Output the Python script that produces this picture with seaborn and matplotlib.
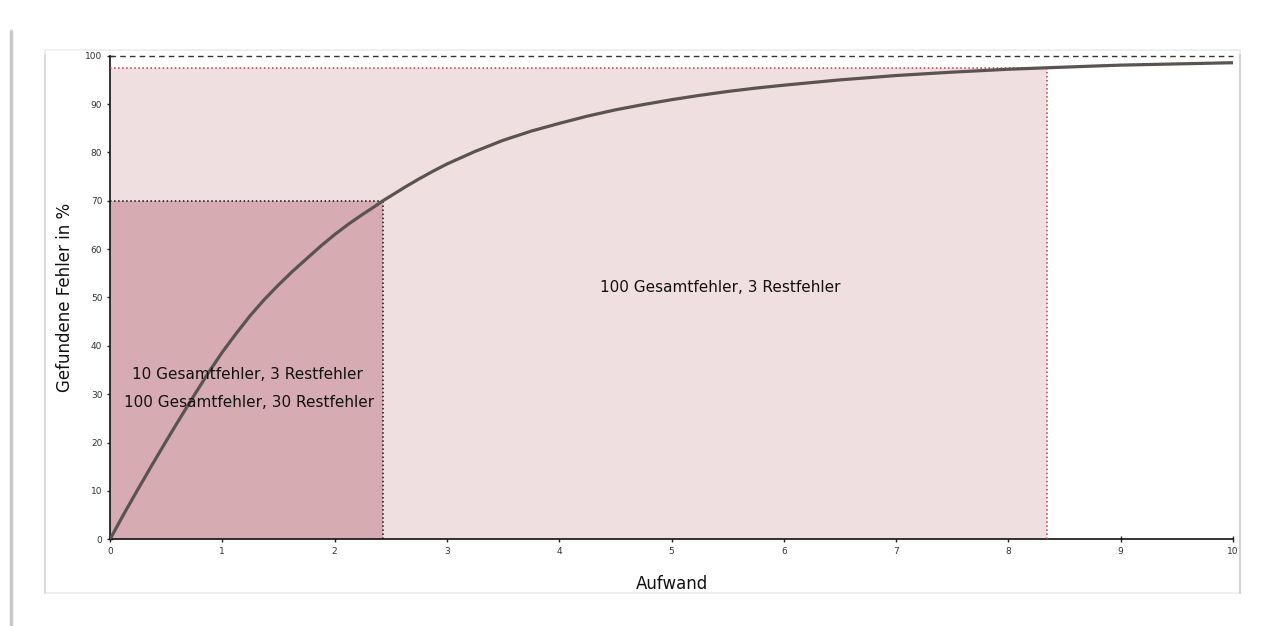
import matplotlib
matplotlib.use("Agg")
import matplotlib.pyplot as plt
import seaborn as sns
import pandas as pd
from matplotlib.patches import Rectangle
from matplotlib.lines import Line2D

# Werte
aufwand = [0, 0.125, 0.25, 0.375, 0.5, 0.625, 0.75, 0.875, 1.0, 1.125, 1.25, 1.375,
           1.5, 1.625, 1.75, 1.875, 2.0, 2.125, 2.25, 2.375, 2.43, 2.5, 2.625, 2.75,
           2.875, 3.0, 3.25, 3.5, 3.75, 4.0, 4.25, 4.5, 4.75, 5.0, 5.25, 5.5, 5.75,
           6.0, 6.5, 7.0, 7.5, 8.0, 8.34, 8.75, 9.0, 9.5, 10.0]
gefunden = [0, 5.3, 10.4, 15.4, 20.3, 25.1, 29.8, 34.4, 38.7, 42.6, 46.3, 49.6,
            52.6, 55.4, 58.0, 60.6, 63.0, 65.2, 67.2, 69.1, 70.0, 71.0, 72.8, 74.5,
            76.1, 77.6, 80.2, 82.5, 84.4, 86.0, 87.5, 88.8, 89.9, 90.9, 91.8, 92.6, 93.3,
            93.9, 95.0, 95.9, 96.6, 97.2, 97.5, 97.85, 98.05, 98.3, 98.55]

grenze_klein = (2.43, 70)    # 10 Gesamtfehler / 100 Gesamtfehler, 30 Rest
grenze_gross = (8.34, 97.5)  # 100 Gesamtfehler, 3 Rest

x_ticks = list(range(0, 11))
y_ticks = list(range(0, 101, 10))

df = pd.DataFrame({"Aufwand": aufwand, "Gefunden": gefunden})

sns.set_theme(style="white")
plt.rcParams['font.family'] = ['DejaVu Sans']

fig = plt.figure(figsize=(12.66, 6.26), dpi=100)
fig.patch.set_facecolor("white")

# Rahmen um die Grafik
W, H = 1266, 626
fig.add_artist(Line2D([11 / W, 11 / W], [0, 1 - 31 / H], color="#c9c9c9", lw=2.5))
fig.add_artist(Rectangle((45 / W, 1 - 593 / H), (1240 - 45) / W, (593 - 50) / H,
                         transform=fig.transFigure, fill=False,
                         edgecolor="#ececec", lw=1.2))
fig.add_artist(Line2D([1240 / W, 1240 / W], [1 - 593 / H, 1 - 55 / H], color="#d2d2d2", lw=1.5))
fig.add_artist(Line2D([45 / W, 45 / W], [1 - 593 / H, 1 - 55 / H], color="#dcdcdc", lw=1.5))

ax = fig.add_axes([110 / W, 1 - 539.3 / H, 1123 / W, (539.3 - 55.7) / H])
ax.set_facecolor("none")

# Flächen
ax.add_patch(Rectangle((0, 0), grenze_gross[0], grenze_gross[1],
                       facecolor="#efdfe1", edgecolor="none", zorder=1))
ax.add_patch(Rectangle((0, 0), grenze_klein[0], grenze_klein[1],
                       facecolor="#d6abb1", edgecolor="none", zorder=2))

# Hilfslinien
ax.plot([0, grenze_gross[0]], [grenze_gross[1], grenze_gross[1]], ls=":", color="#c23a4a", lw=1.1, zorder=3)
ax.plot([grenze_gross[0], grenze_gross[0]], [0, grenze_gross[1]], ls=":", color="#c23a4a", lw=1.1, zorder=3)
ax.plot([0, grenze_klein[0]], [grenze_klein[1], grenze_klein[1]], ls=":", color="#111111", lw=1.1, zorder=3)
ax.plot([grenze_klein[0], grenze_klein[0]], [0, grenze_klein[1]], ls=":", color="#111111", lw=1.1, zorder=3)
ax.plot([0, 10], [100, 100], ls=(0, (4, 3)), color="#333333", lw=1.0, zorder=3, clip_on=False)

sns.lineplot(data=df, x="Aufwand", y="Gefunden", ax=ax, color="#5a5451", lw=2.3, zorder=4)

ax.text(1.22, 34, "10 Gesamtfehler, 3 Restfehler", ha="center", va="center", fontsize=11, color="#111111", zorder=5)
ax.text(1.24, 28.2, "100 Gesamtfehler, 30 Restfehler", ha="center", va="center", fontsize=11, color="#111111", zorder=5)
ax.text(5.43, 52, "100 Gesamtfehler, 3 Restfehler", ha="center", va="center", fontsize=11, color="#111111", zorder=5)

ax.set_xlim(0, 10)
ax.set_ylim(0, 100)
ax.set_xticks(x_ticks)
ax.set_yticks(y_ticks)
ax.tick_params(direction="inout", length=5, width=1, labelsize=6.5, labelcolor="#333333",
               left=True, bottom=True, pad=3)
for s in ["top", "right"]:
    ax.spines[s].set_visible(False)
for s in ["left", "bottom"]:
    ax.spines[s].set_color("#111111")
    ax.spines[s].set_linewidth(1.2)

ax.set_xlabel("Aufwand", fontsize=12, color="#111111", labelpad=14)
ax.set_ylabel("Gefundene Fehler in %", fontsize=12, color="#111111", labelpad=8)

fig.savefig("out.png", dpi=100)
